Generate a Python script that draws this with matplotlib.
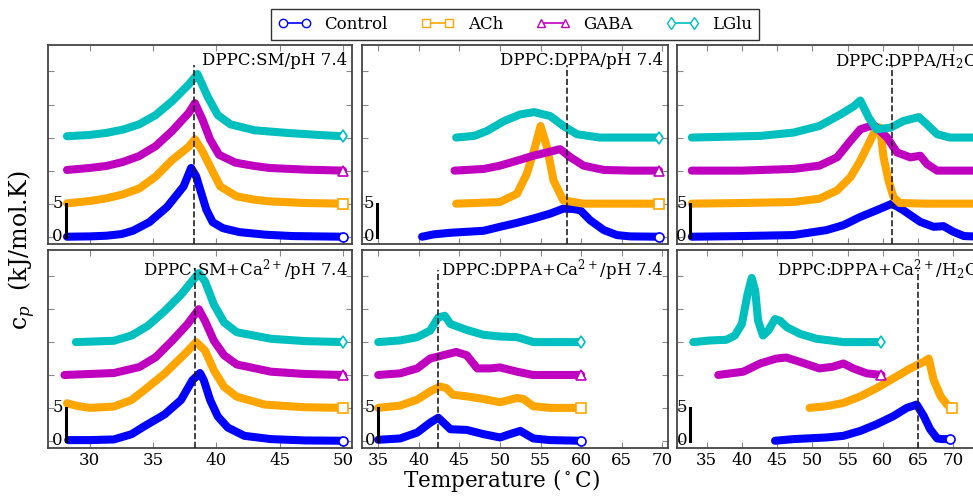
import numpy as np
import matplotlib
matplotlib.use("Agg")
import matplotlib.pyplot as plt
from matplotlib.lines import Line2D

plt.rcParams['font.family'] = ['DejaVu Serif']
plt.rcParams['mathtext.fontset'] = 'dejavuserif'

# ---- data: cp (kJ/mol.K) vs temperature (C), stacked with offsets ----
labels = ['Control', 'ACh', 'GABA', 'LGlu']
colors = ['#0000ff', '#ffa500', '#bf00bf', '#00bfbf']
markers = ['o', 's', '^', 'd']
offsets = [0, 5, 10, 15]

# DPPC:SM / pH 7.4
sm_ctrl_T = [28.2, 30.0, 31.3, 32.5, 33.4, 34.7, 36.1, 37.4, 38.0, 38.4, 38.8, 39.2, 39.7, 40.5, 41.8, 43.9, 46.0, 50.0]
sm_ctrl_cp = [0.0, 0.05, 0.15, 0.4, 0.9, 2.2, 4.5, 7.6, 10.4, 9.1, 6.6, 4.1, 2.2, 1.3, 0.7, 0.3, 0.1, 0.0]
sm_ach_T = [28.2, 30.0, 31.3, 32.6, 33.9, 35.2, 36.5, 37.8, 38.3, 38.9, 39.5, 40.3, 41.6, 43.0, 44.2, 47.0, 50.0]
sm_ach_cp = [0.05, 0.4, 0.8, 1.4, 2.3, 4.1, 6.6, 8.6, 9.75, 7.9, 5.6, 2.6, 1.1, 0.6, 0.35, 0.1, 0.0]
sm_gaba_T = [28.2, 30.0, 31.3, 32.6, 33.9, 35.2, 36.5, 37.8, 38.3, 38.9, 39.5, 40.2, 41.5, 43.0, 44.2, 47.0, 50.0]
sm_gaba_cp = [0.1, 0.4, 0.7, 1.3, 2.2, 3.7, 6.0, 8.7, 10.2, 7.7, 4.7, 2.4, 1.2, 0.7, 0.4, 0.15, 0.0]
sm_lglu_T = [28.2, 30.0, 31.3, 32.6, 33.9, 35.2, 36.5, 37.8, 38.5, 39.3, 40.1, 41.1, 43.0, 45.6, 48.0, 50.0]
sm_lglu_cp = [0.2, 0.4, 0.7, 1.2, 2.0, 3.4, 5.5, 8.0, 9.6, 6.2, 3.4, 2.0, 1.1, 0.7, 0.4, 0.2]

# DPPC:DPPA / pH 7.4
pa_ctrl_T = [40.4, 41.8, 43.9, 48.0, 50.0, 52.1, 54.1, 56.2, 57.8, 59.0, 59.9, 61.1, 62.8, 64.4, 66.0, 69.6]
pa_ctrl_cp = [0.0, 0.35, 0.6, 0.9, 1.5, 2.1, 2.75, 3.5, 4.25, 4.2, 4.0, 2.5, 1.0, 0.25, 0.05, 0.0]
pa_ach_T = [44.6, 47.0, 50.0, 52.1, 53.3, 54.3, 55.0, 55.8, 56.6, 57.8, 60.3, 65.0, 69.6]
pa_ach_cp = [0.0, 0.1, 0.25, 1.5, 4.5, 8.5, 11.75, 8.5, 3.5, 0.5, 0.0, 0.0, 0.0]
pa_gaba_T = [44.4, 48.0, 50.0, 52.1, 54.1, 55.8, 57.4, 58.7, 60.3, 62.8, 66.0, 69.6]
pa_gaba_cp = [0.0, 0.25, 0.75, 1.5, 2.25, 2.75, 3.25, 2.0, 0.75, 0.1, 0.0, 0.0]
pa_lglu_T = [44.6, 46.8, 48.4, 50.5, 52.5, 54.2, 56.2, 57.8, 59.5, 62.3, 66.0, 69.6]
pa_lglu_cp = [0.0, 0.25, 1.0, 2.5, 3.5, 3.85, 3.25, 1.75, 0.5, 0.0, 0.0, 0.0]

# DPPC:DPPA / H2O
pw_ctrl_T = [32.9, 40.0, 47.3, 52.0, 54.4, 56.8, 59.1, 61.3, 62.9, 65.3, 67.2, 68.6, 70.0, 71.5, 74.0]
pw_ctrl_cp = [0.0, 0.1, 0.25, 1.0, 1.75, 3.0, 4.0, 5.0, 4.0, 2.25, 1.5, 1.6, 0.75, 0.1, 0.0]
pw_ach_T = [32.9, 40.0, 47.3, 51.0, 53.5, 55.4, 56.8, 58.2, 59.1, 59.6, 60.1, 60.8, 61.5, 62.4, 66.0, 74.0]
pw_ach_cp = [0.0, 0.1, 0.25, 0.75, 2.0, 4.0, 6.5, 9.5, 11.6, 11.5, 7.0, 3.5, 1.0, 0.1, 0.0, 0.0]
pw_gaba_T = [32.9, 40.0, 47.3, 51.0, 53.5, 55.4, 56.8, 58.7, 60.6, 62.0, 63.9, 65.3, 66.25, 67.7, 70.0, 74.0]
pw_gaba_cp = [0.0, 0.0, 0.25, 0.75, 2.0, 4.5, 6.25, 6.9, 5.0, 2.75, 2.0, 2.25, 1.0, 0.0, 0.0, 0.0]
pw_lglu_T = [32.9, 42.6, 47.3, 51.0, 54.0, 55.9, 56.8, 58.0, 59.1, 61.1, 62.9, 65.1, 66.25, 67.7, 69.5, 74.0]
pw_lglu_cp = [0.0, 0.25, 0.75, 1.75, 3.5, 4.75, 5.6, 3.0, 1.25, 1.5, 2.5, 3.1, 2.0, 0.5, 0.0, 0.0]

# DPPC:SM+Ca2+ / pH 7.4
smca_ctrl_T = [28.3, 30.0, 31.9, 33.3, 34.3, 35.9, 37.2, 38.1, 38.7, 39.0, 39.5, 40.1, 40.9, 42.2, 44.3, 47.0, 50.0]
smca_ctrl_cp = [0.1, 0.1, 0.2, 1.0, 2.2, 4.0, 6.2, 9.2, 10.3, 9.2, 6.2, 3.7, 2.0, 0.75, 0.25, 0.05, 0.0]
smca_ach_T = [28.2, 29.0, 30.0, 31.9, 33.3, 34.3, 35.9, 37.5, 38.4, 39.1, 39.8, 40.6, 41.6, 43.8, 46.9, 50.0]
smca_ach_cp = [0.7, 0.3, 0.0, 0.2, 1.2, 2.7, 5.2, 8.2, 10.0, 8.7, 5.7, 3.2, 1.7, 0.5, 0.1, 0.0]
smca_gaba_T = [28.0, 30.0, 31.9, 33.9, 35.2, 36.5, 37.7, 38.6, 39.1, 39.8, 40.6, 41.6, 44.3, 47.0, 50.0]
smca_gaba_cp = [0.0, 0.15, 0.3, 1.2, 2.7, 5.2, 7.7, 10.0, 8.2, 5.2, 3.0, 1.6, 0.5, 0.15, 0.0]
smca_lglu_T = [28.9, 30.5, 31.9, 33.3, 34.6, 35.9, 37.2, 38.6, 39.1, 39.8, 40.6, 41.6, 44.3, 47.0, 50.0]
smca_lglu_cp = [0.0, 0.1, 0.2, 1.0, 2.5, 4.7, 7.2, 10.5, 9.2, 5.7, 3.0, 1.5, 0.5, 0.15, 0.0]

# DPPC:DPPA+Ca2+ / pH 7.4
paca_ctrl_T = [35.0, 37.7, 39.8, 41.4, 42.4, 43.9, 45.9, 48.0, 50.0, 51.2, 52.5, 54.1, 56.2, 60.0]
paca_ctrl_cp = [0.15, 0.35, 1.25, 2.75, 3.5, 1.75, 1.65, 1.0, 0.5, 1.0, 1.5, 0.35, 0.1, 0.0]
paca_ach_T = [35.0, 37.7, 39.8, 41.4, 42.6, 43.4, 44.2, 45.9, 48.0, 50.0, 52.1, 52.9, 54.1, 56.2, 60.0]
paca_ach_cp = [0.0, 0.35, 1.25, 2.5, 3.25, 3.0, 2.0, 1.75, 1.35, 0.85, 1.5, 1.35, 0.25, 0.0, 0.0]
paca_gaba_T = [35.0, 37.7, 39.8, 41.4, 43.0, 44.6, 45.9, 47.2, 48.8, 50.0, 52.1, 54.1, 60.0]
paca_gaba_cp = [0.0, 0.25, 1.0, 2.5, 3.0, 3.5, 3.0, 1.0, 1.0, 1.15, 0.5, 0.0, 0.0]
paca_lglu_T = [35.0, 37.7, 39.8, 41.4, 42.4, 43.2, 43.9, 45.9, 48.0, 50.0, 52.1, 54.1, 60.0]
paca_lglu_cp = [0.0, 0.25, 0.75, 1.75, 3.75, 4.0, 2.75, 1.85, 1.1, 0.85, 0.75, 0.0, 0.0]

# DPPC:DPPA+Ca2+ / H2O
pwca_ctrl_T = [44.7, 47.3, 52.0, 54.4, 56.8, 59.1, 61.5, 63.4, 64.8, 65.8, 66.7, 67.7, 68.4, 69.5]
pwca_ctrl_cp = [0.0, 0.25, 0.5, 0.75, 1.5, 2.5, 3.75, 5.0, 5.5, 3.75, 1.75, 0.35, 0.25, 0.25]
pwca_ach_T = [49.6, 52.0, 54.4, 56.8, 59.1, 61.5, 63.9, 65.8, 66.5, 67.2, 68.2, 69.1, 69.8]
pwca_ach_cp = [0.0, 0.25, 0.75, 1.75, 3.0, 4.5, 6.0, 7.0, 7.5, 4.25, 1.75, 0.5, 0.0]
pwca_gaba_T = [36.65, 40.2, 42.6, 44.9, 46.3, 48.2, 51.0, 52.9, 54.4, 55.8, 57.7, 59.8]
pwca_gaba_cp = [0.0, 0.5, 1.75, 2.5, 2.65, 2.0, 1.0, 1.25, 1.75, 1.0, 0.25, 0.0]
pwca_lglu_T = [33.1, 35.5, 37.8, 39.0, 40.0, 40.8, 41.4, 41.9, 42.3, 43.0, 43.75, 44.7, 45.4, 46.4, 48.25, 50.6, 54.4, 59.7]
pwca_lglu_cp = [0.0, 0.25, 0.35, 1.0, 2.75, 7.25, 9.75, 7.75, 3.25, 1.0, 1.75, 3.5, 3.25, 2.25, 1.25, 0.5, 0.0, 0.0]

titles = ['DPPC:SM/pH 7.4', 'DPPC:DPPA/pH 7.4', 'DPPC:DPPA/H$_2$O',
          'DPPC:SM+Ca$^{2+}$/pH 7.4', 'DPPC:DPPA+Ca$^{2+}$/pH 7.4',
          'DPPC:DPPA+Ca$^{2+}$/H$_2$O']
transitions = [38.2, 58.2, 61.3, 38.3, 42.4, 65.0]
bar_x = [28.1, 34.85, 32.6, 28.1, 35.0, 32.7]
xlims = [(26.7, 50.7), (33.0, 70.7), (30.8, 74.2)]
xticks = [[30, 35, 40, 45, 50], [35, 40, 45, 50, 55, 60, 65, 70],
          [35, 40, 45, 50, 55, 60, 65, 70]]

panels = [
    [(sm_ctrl_T, sm_ctrl_cp), (sm_ach_T, sm_ach_cp), (sm_gaba_T, sm_gaba_cp), (sm_lglu_T, sm_lglu_cp)],
    [(pa_ctrl_T, pa_ctrl_cp), (pa_ach_T, pa_ach_cp), (pa_gaba_T, pa_gaba_cp), (pa_lglu_T, pa_lglu_cp)],
    [(pw_ctrl_T, pw_ctrl_cp), (pw_ach_T, pw_ach_cp), (pw_gaba_T, pw_gaba_cp), (pw_lglu_T, pw_lglu_cp)],
    [(smca_ctrl_T, smca_ctrl_cp), (smca_ach_T, smca_ach_cp), (smca_gaba_T, smca_gaba_cp), (smca_lglu_T, smca_lglu_cp)],
    [(paca_ctrl_T, paca_ctrl_cp), (paca_ach_T, paca_ach_cp), (paca_gaba_T, paca_gaba_cp), (paca_lglu_T, paca_lglu_cp)],
    [(pwca_ctrl_T, pwca_ctrl_cp), (pwca_ach_T, pwca_ach_cp), (pwca_gaba_T, pwca_gaba_cp), (pwca_lglu_T, pwca_lglu_cp)],
]

W, H = 973, 496
fig = plt.figure(figsize=(W / 100, H / 100), dpi=100)

col_px = [(48, 352), (362, 668), (677, 983)]
row_px = [(45, 244), (250, 448)]

for i in range(6):
    r, c = divmod(i, 3)
    x0, x1 = col_px[c]
    y0, y1 = row_px[r]
    ax = fig.add_axes([x0 / W, 1 - y1 / H, (x1 - x0) / W, (y1 - y0) / H])

    for k, (T, cp) in enumerate(panels[i]):
        y = np.asarray(cp) + offsets[k]
        ax.plot(T, y, '-', color=colors[k], lw=5.8,
                solid_capstyle='round', solid_joinstyle='round', zorder=2)
        ax.plot(T[-1], y[-1], markers[k], mfc='w', mec=colors[k],
                ms=6.5, mew=1.2, zorder=3)

    ax.vlines(transitions[i], -1.1, 26, colors='#222222', linestyles='--',
              lw=1.2, zorder=4)

    # 5 kJ/mol.K scale bar
    ax.plot([bar_x[i], bar_x[i]], [0, 5], color='k', lw=2.2, zorder=4)
    for v in (0, 5):
        ax.annotate(str(v), (bar_x[i], v), xytext=(-2, 0),
                    textcoords='offset points', ha='right', va='center',
                    fontsize=12)

    ax.text(0.985, 0.965, titles[i], transform=ax.transAxes, ha='right',
            va='top', fontsize=12)

    ax.set_xlim(*xlims[c])
    ax.set_ylim(-1.1, 29)
    ax.set_xticks(xticks[c])
    ax.set_yticks([0, 5, 10, 15, 20, 25])
    ax.set_yticklabels([])
    if r == 0:
        ax.set_xticklabels([])
    ax.tick_params(direction='in', top=True, right=True, length=4,
                   color='#888888', labelsize=12, pad=3)
    for s in ax.spines.values():
        s.set_color('#444444')
        s.set_linewidth(1.3)

handles = [Line2D([], [], color=colors[k], marker=markers[k], mfc='w',
                  mec=colors[k], ms=6, lw=1.2, label=labels[k])
           for k in range(4)]
leg = fig.legend(handles=handles, loc='center', ncol=4, numpoints=2,
                 bbox_to_anchor=(515 / W, 1 - 24.5 / H), fontsize=12,
                 frameon=True, fancybox=False, edgecolor='k',
                 columnspacing=2.0, handlelength=2.0, borderpad=0.4)
leg.get_frame().set_linewidth(1.0)

fig.text(22 / W, 1 - 250 / H, 'c$_p$  (kJ/mol.K)', rotation=90,
         ha='center', va='center', fontsize=17)
fig.text(501 / W, 1.5 / H, 'Temperature ($^\\circ$C)', ha='center',
         va='bottom', fontsize=15.5)

fig.savefig('out.png', dpi=100)
